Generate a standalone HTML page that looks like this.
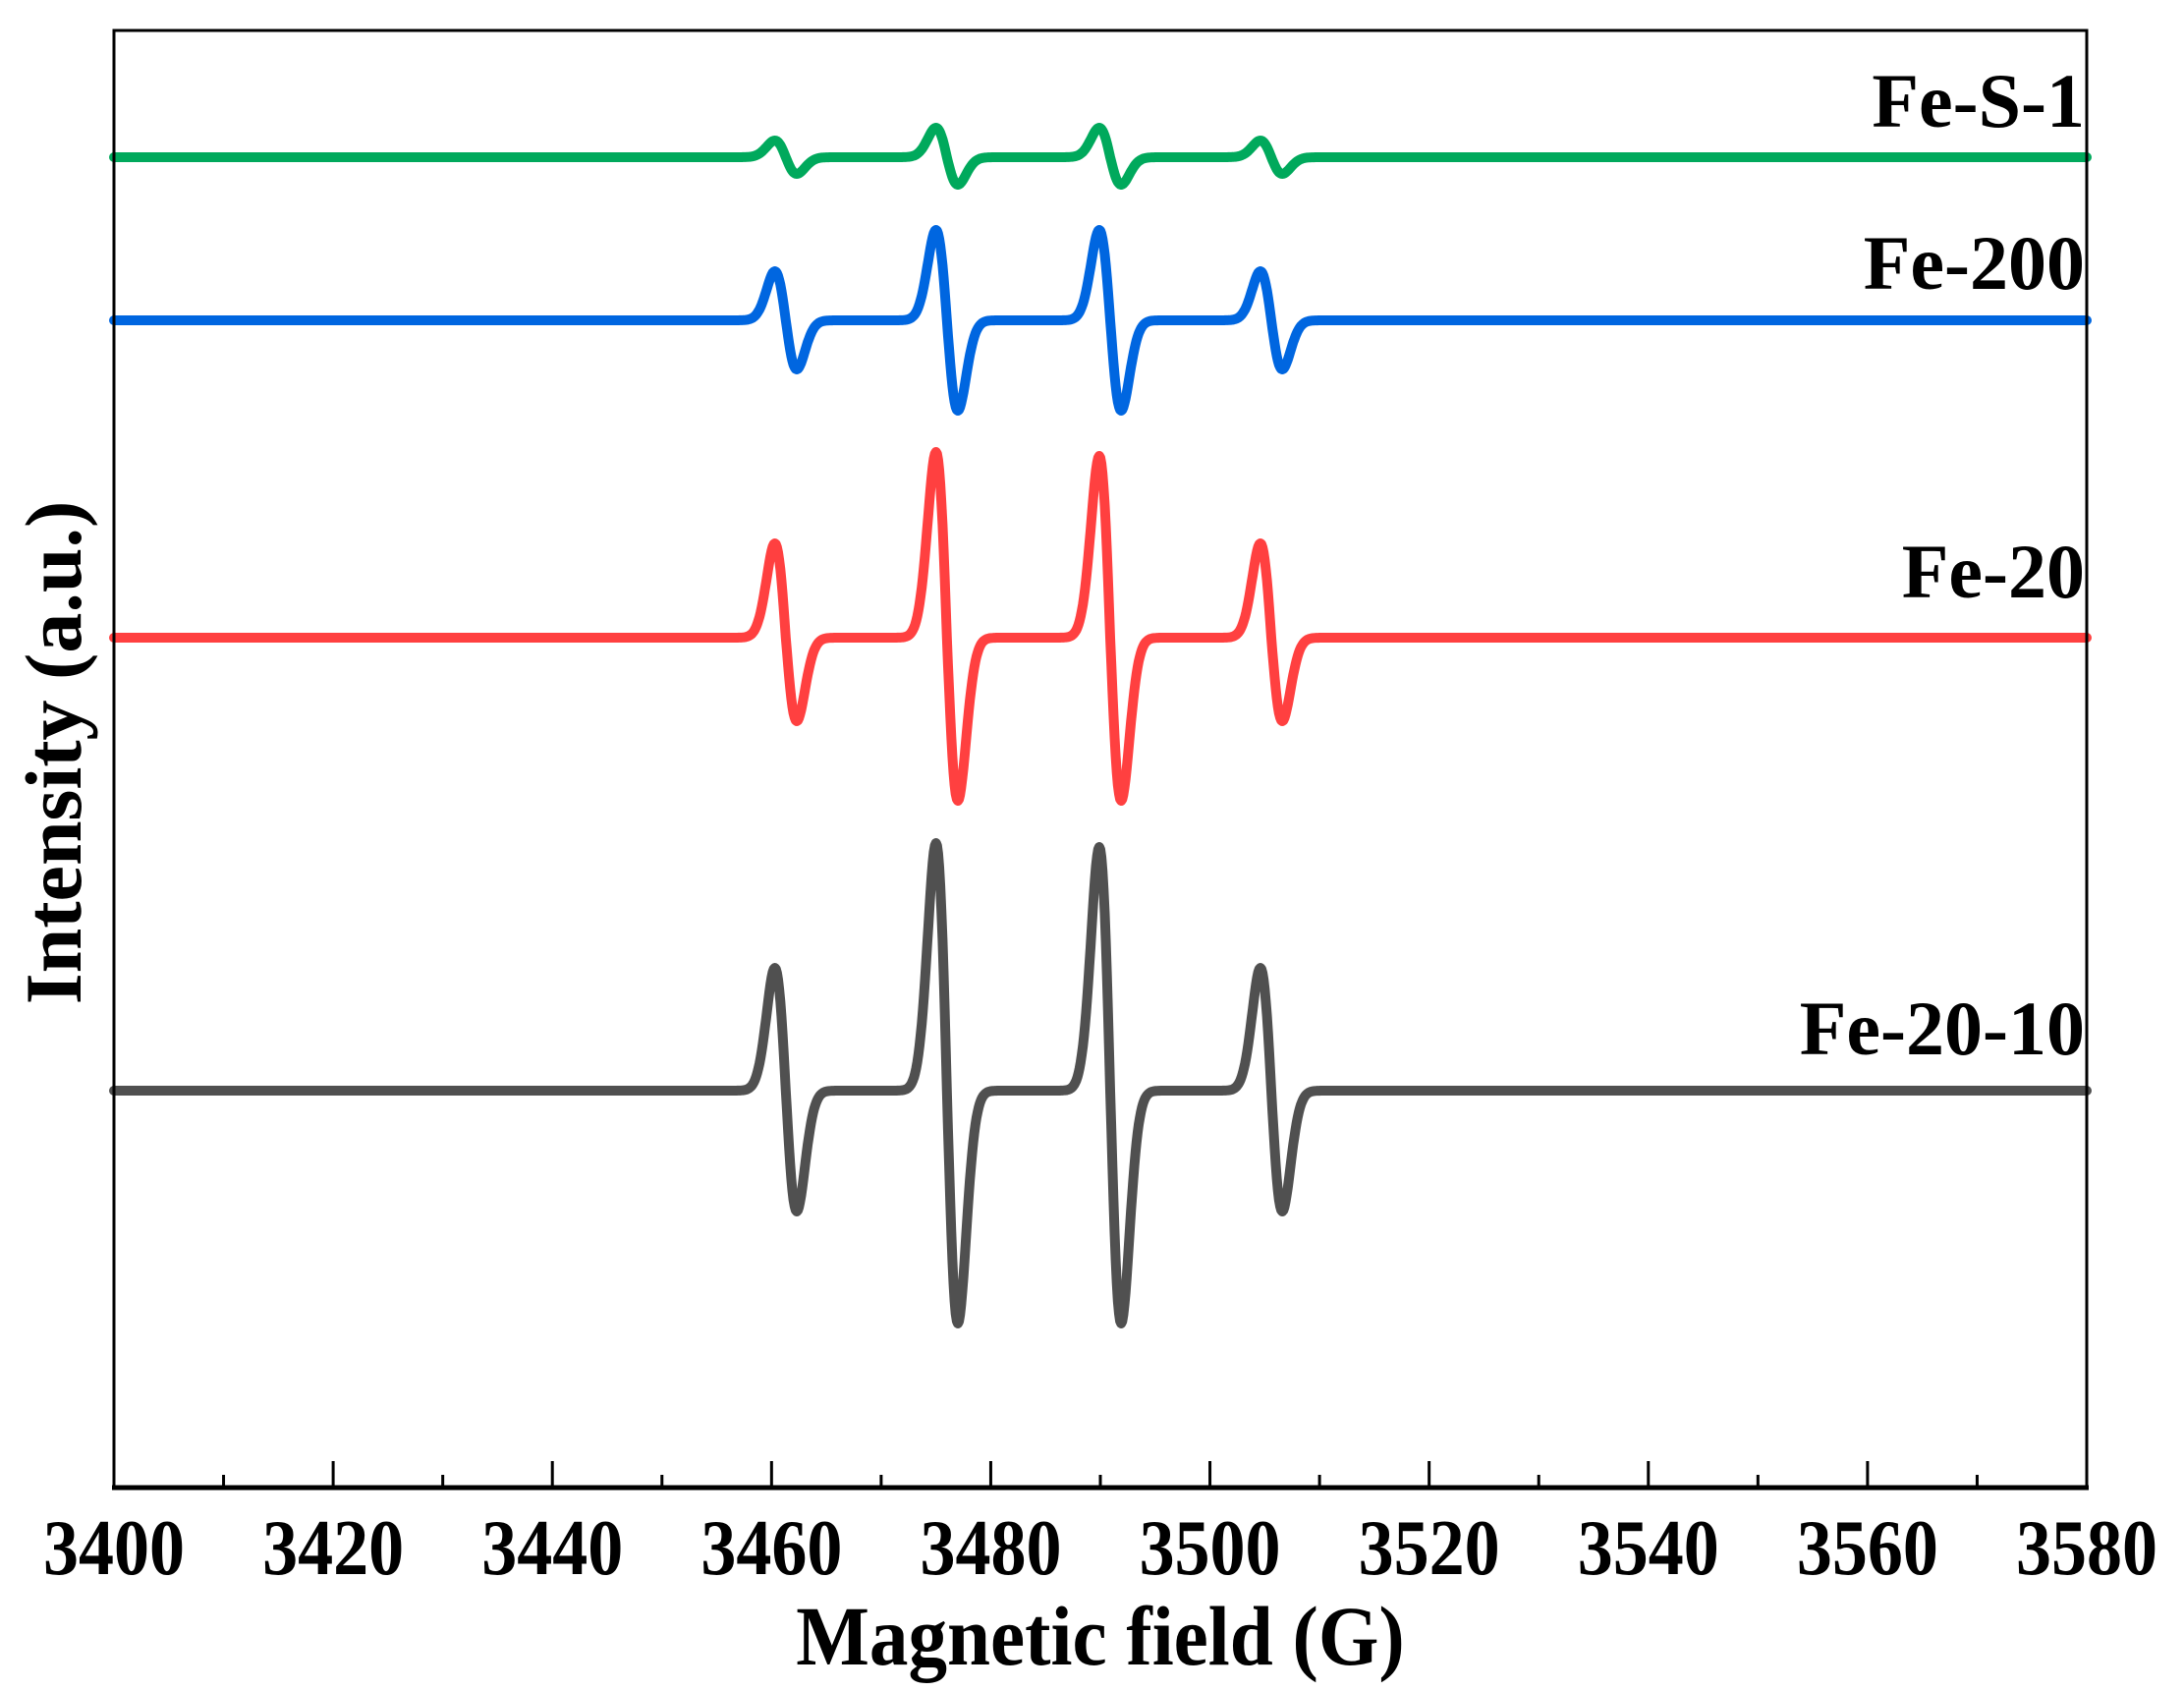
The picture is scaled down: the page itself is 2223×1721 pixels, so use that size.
<!DOCTYPE html>
<html><head><meta charset="utf-8"><style>
html,body{margin:0;padding:0;background:#fff;}
svg{display:block;}
text{font-family:"Liberation Serif",serif;font-weight:bold;fill:#000;}
</style></head><body>
<svg id="chart" width="2223" height="1721" viewBox="0 0 2223 1721" xmlns="http://www.w3.org/2000/svg">
<g id="series"></g>
<rect x="116" y="31" width="2008" height="1483" fill="none" stroke="#000" stroke-width="3"/>
<line x1="114" y1="1514" x2="2126" y2="1514" stroke="#000" stroke-width="5"/>
<g id="ticks"></g>
<text x="0" y="0" font-size="86" text-anchor="middle" transform="translate(1120,1694) scale(0.92,1)">Magnetic field (G)</text>
<text x="0" y="0" font-size="82" text-anchor="middle" transform="translate(82,766) rotate(-90)">Intensity (a.u.)</text>
<g id="labels"></g>
</svg>
<script>
const xTicks = [3400,3420,3440,3460,3480,3500,3520,3540,3560,3580];
const xMinor = [3410,3430,3450,3470,3490,3510,3530,3550,3570];
const seriesNames = ["Fe-S-1","Fe-200","Fe-20","Fe-20-10"];
const seriesColors = ["#00a95c","#0066e0","#ff4040","#505050"];
const baselines = [1354,1188,865,404];
const lineFields = [3461.3,3476.0,3490.9,3505.6];
const upAmps = [
  [17,30,30,17],
  [50,92,92,50],
  [96,189,185,96],
  [125,252,248,125]
];
const downAmps = [
  [17,28,28,17],
  [50,92,92,50],
  [85,166,166,85],
  [123,237,237,123]
];
const labelY = [102,267,581,1046];

const NS="http://www.w3.org/2000/svg";
const X0=116,X1=2124,Y0=1514,Y1=31;
const xs=v=>X0+(v-3400)/(3580-3400)*(X1-X0);
const ys=v=>Y0-(v/1483)*(Y0-Y1);
const width=1.0;

const tg=document.getElementById('ticks');
xTicks.forEach(t=>{
  const l=document.createElementNS(NS,'line');
  
  
  l.setAttribute('x1',xs(t));l.setAttribute('x2',xs(t));
  l.setAttribute('y1',Y0);l.setAttribute('y2',Y0-27);
  l.setAttribute('stroke','#000');l.setAttribute('stroke-width','3');
  tg.appendChild(l);
  const tx=document.createElementNS(NS,'text');
  
  
  tx.setAttribute('x',0);tx.setAttribute('y',0);
  tx.setAttribute('transform','translate('+xs(t)+',1602) scale(0.9,1)');
  tx.setAttribute('font-size','80');tx.setAttribute('text-anchor','middle');
  tx.textContent=t;
  tg.appendChild(tx);
});
xMinor.forEach(t=>{
  const l=document.createElementNS(NS,'line');
  
  
  l.setAttribute('x1',xs(t));l.setAttribute('x2',xs(t));
  l.setAttribute('y1',Y0);l.setAttribute('y2',Y0-13);
  l.setAttribute('stroke','#000');l.setAttribute('stroke-width','3');
  tg.appendChild(l);
});

const sg=document.getElementById('series');
seriesNames.forEach((name,i)=>{
  let d='';
  for(let k=0;k<=1800;k++){
    const f=3400+k*0.1;
    let v=0;
    lineFields.forEach((c,j)=>{
      const u=(f-c)/width;
      const g=-u*Math.exp(0.5-u*u/2);
      v+= g>0 ? g*upAmps[i][j] : g*downAmps[i][j];
    });
    d+=(k?'L':'M')+xs(f).toFixed(1)+','+ys(baselines[i]+v).toFixed(1);
  }
  const p=document.createElementNS(NS,'path');
  
  
  p.setAttribute('d',d);
  p.setAttribute('fill','none');
  p.setAttribute('stroke',seriesColors[i]);
  p.setAttribute('stroke-width','10');
  p.setAttribute('stroke-linejoin','round');
  p.setAttribute('stroke-linecap','round');
  sg.appendChild(p);
  const t=document.createElementNS(NS,'text');
  
  
  t.setAttribute('x',2122);t.setAttribute('y',labelY[i]+27);
  t.setAttribute('font-size','78');t.setAttribute('text-anchor','end');
  t.textContent=name;
  document.getElementById('labels').appendChild(t);
});
</script>
</body></html>
